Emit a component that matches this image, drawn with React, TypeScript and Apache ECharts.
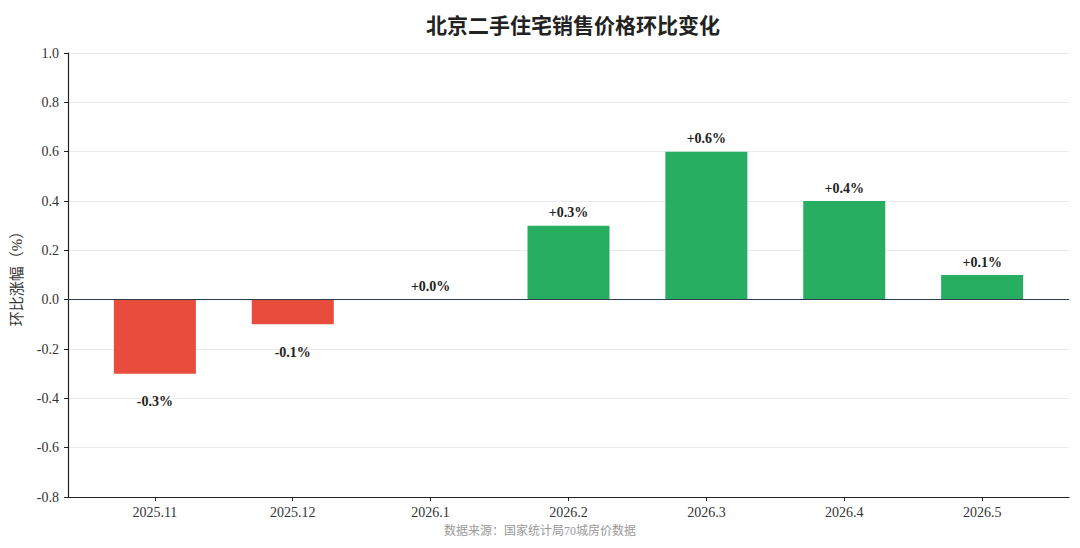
import React, { useEffect, useRef } from "react";
import * as echarts from "echarts";

const categories = ["2025.11", "2025.12", "2026.1", "2026.2", "2026.3", "2026.4", "2026.5"];
const values = [-0.3, -0.1, 0.0, 0.3, 0.6, 0.4, 0.1];
const yTicks = [-0.8, -0.6, -0.4, -0.2, 0.0, 0.2, 0.4, 0.6, 0.8, 1.0];

const FONT = "'Liberation Serif', 'DejaVu Serif', 'Noto Sans CJK SC', serif";
const RED = "#e74c3c";
const GREEN = "#27ae60";

export default function App() {
  const ref = useRef<HTMLDivElement>(null);
  useEffect(() => {
    if (!ref.current) return;
    const chart = echarts.init(ref.current, null, { renderer: "svg" });
    const idx = categories.map((_, i) => i);
    chart.setOption({
      animation: false,
      backgroundColor: "#ffffff",
      textStyle: { fontFamily: FONT },
      title: {
        text: "北京二手住宅销售价格环比变化",
        left: 568,
        top: 10,
        textAlign: "center",
        textStyle: { fontFamily: FONT, fontSize: 21, fontWeight: "bold", color: "#222" },
      },
      grid: { left: 68, right: 11, top: 53, bottom: 51, containLabel: false },
      xAxis: {
        type: "value",
        min: -0.63,
        max: 6.63,
        splitLine: { show: false },
        axisLine: { show: true, onZero: false, lineStyle: { color: "#222", width: 1.2 } },
        axisTick: { show: true, customValues: idx, length: 4, lineStyle: { color: "#222" } },
        axisLabel: {
          customValues: idx,
          formatter: (v: number) => categories[Math.round(v)] ?? "",
          color: "#333",
          fontSize: 14,
          fontFamily: FONT,
          margin: 8,
        },
      },
      yAxis: {
        type: "value",
        min: -0.8,
        max: 1.0,
        interval: 0.2,
        name: "环比涨幅（%）",
        nameLocation: "middle",
        nameGap: 44,
        nameTextStyle: { fontSize: 15, color: "#333", fontFamily: FONT },
        axisLine: { show: true, onZero: false, lineStyle: { color: "#222", width: 1.2 } },
        axisTick: { show: true, length: 4, lineStyle: { color: "#222" } },
        axisLabel: {
          formatter: (v: number) => {
            const t = yTicks.find((x) => Math.abs(x - v) < 1e-6);
            return (t ?? v).toFixed(1);
          },
          color: "#333",
          fontSize: 14,
          fontFamily: FONT,
          margin: 9,
        },
        splitLine: { show: true, lineStyle: { color: "#ebebeb", width: 1 } },
      },
      series: [
        {
          type: "bar",
          barWidth: 82,
          data: values.map((v, i) => ({
            value: [i, v],
            itemStyle: { color: v < 0 ? RED : GREEN },
            label: {
              show: true,
              position: v < 0 ? "bottom" : "top",
              distance: v < 0 ? 21 : 6,
              formatter: () => (v >= 0 ? "+" : "") + v.toFixed(1) + "%",
              fontSize: 14,
              fontWeight: "bold",
              color: "#222",
              fontFamily: FONT,
            },
          })),
          markLine: {
            silent: true,
            symbol: "none",
            label: { show: false },
            lineStyle: { color: "#2c3e50", width: 1.2, type: "solid" },
            data: [{ yAxis: 0 }],
          },
        },
      ],
      graphic: [
        {
          type: "text",
          x: 540,
          y: 531,
          style: {
            text: "数据来源：国家统计局70城房价数据",
            fontSize: 12,
            fill: "#999",
            fontFamily: FONT,
            textAlign: "center",
            textVerticalAlign: "middle",
          },
        },
      ],
    });
    return () => chart.dispose();
  }, []);
  return (
    <div
      ref={ref}
      style={{ position: "fixed", left: 0, top: 0, width: 1080, height: 548 }}
    />
  );
}
